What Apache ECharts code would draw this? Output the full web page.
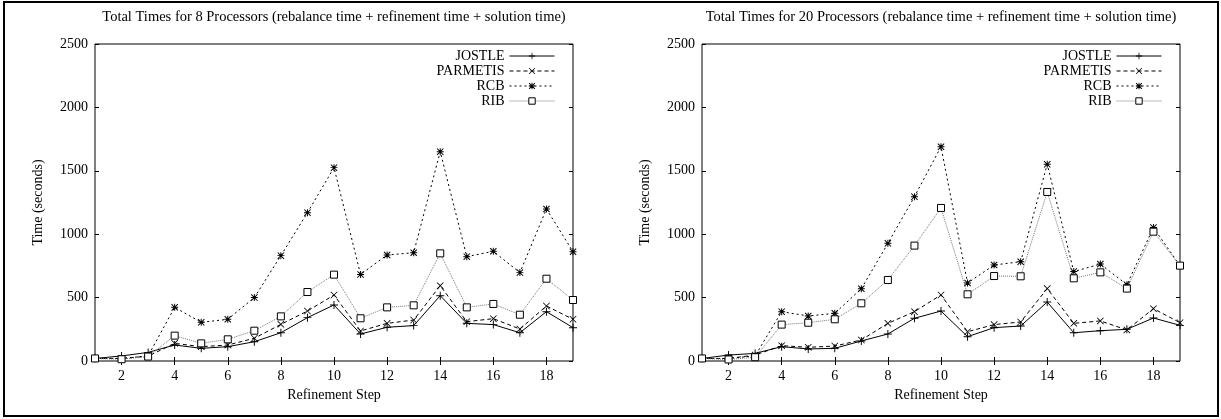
<!DOCTYPE html>
<html>
<head>
<meta charset="utf-8">
<script src="https://cdn.jsdelivr.net/npm/echarts@6/dist/echarts.min.js"></script>
<style>
  html, body { margin: 0; padding: 0; background: #fff; }
  #chart { width: 1221px; height: 419px; }
</style>
</head>
<body>
<div id="chart"></div>
<script>
// Refinement steps along the x axis
const steps = [1, 2, 3, 4, 5, 6, 7, 8, 9, 10, 11, 12, 13, 14, 15, 16, 17, 18, 19];
const xTicks = [2, 4, 6, 8, 10, 12, 14, 16, 18];
const methods = ['JOSTLE', 'PARMETIS', 'RCB', 'RIB'];

// Total times (seconds), 8 processors
const jostle8   = [20, 40, 68, 126, 100, 113, 152, 223, 342, 442, 213, 266, 279, 515, 297, 287, 223, 389, 263];
const parmetis8 = [20, 20, 38, 139, 113, 126, 179, 289, 394, 520, 237, 297, 323, 594, 310, 334, 252, 434, 329];
const rcb8      = [20, 20, 40, 423, 305, 329, 500, 831, 1170, 1525, 683, 836, 854, 1651, 823, 865, 697, 1199, 862];
const rib8      = [20, 14, 35, 200, 139, 171, 239, 352, 544, 681, 337, 423, 439, 849, 423, 450, 365, 649, 481];

// Total times (seconds), 20 processors
const jostle20   = [20, 47, 60, 113, 95, 100, 158, 213, 337, 394, 192, 263, 276, 465, 223, 239, 250, 339, 281];
const parmetis20 = [20, 20, 47, 121, 108, 118, 166, 297, 389, 521, 231, 287, 308, 571, 297, 316, 245, 413, 302];
const rcb20      = [20, 20, 40, 389, 355, 376, 570, 928, 1296, 1690, 615, 757, 783, 1551, 705, 765, 602, 1052, 752];
const rib20      = [20, 12, 30, 287, 302, 329, 455, 639, 910, 1207, 526, 670, 668, 1333, 652, 699, 571, 1020, 752];

const titles = [
  'Total Times for 8 Processors (rebalance time + refinement time + solution time)',
  'Total Times for 20 Processors (rebalance time + refinement time + solution time)'
];

const FONT = '"Liberation Serif", "DejaVu Serif", serif';
const FS = 14;

// gnuplot-style point marks
const PLUS  = 'path://M4.4,0h1.2v4.4h4.4v1.2h-4.4v4.4h-1.2v-4.4h-4.4v-1.2h4.4z';
const CROSS = 'path://M0,0.8L0.8,0L5,4.2L9.2,0L10,0.8L5.8,5L10,9.2L9.2,10L5,5.8L0.8,10L0,9.2L4.2,5Z';
const STAR  = 'path://M4.3,0h1.4v4.3h4.3v1.4h-4.3v4.3h-1.4v-4.3h-4.3v-1.4h4.3zM0,1L1,0L5,4L9,0L10,1L6,5L10,9L9,10L5,6L1,10L0,9L4,5Z';

const styles = {
  JOSTLE:   { symbol: PLUS,  size: 8, fill: '#000', border: 0, line: { color: '#000', width: 1, type: 'solid' } },
  PARMETIS: { symbol: CROSS, size: 7, fill: '#000', border: 0, line: { color: '#000', width: 1, type: [4, 3] } },
  RCB:      { symbol: STAR,  size: 7, fill: '#000', border: 0, line: { color: '#000', width: 1, type: [2, 3] } },
  RIB:      { symbol: 'rect', size: 7, fill: '#fff', border: 1, line: { color: '#777', width: 1, type: [1, 1] } }
};

const panels = [
  { left: 95,  values: { JOSTLE: jostle8,  PARMETIS: parmetis8,  RCB: rcb8,  RIB: rib8 } },
  { left: 702, values: { JOSTLE: jostle20, PARMETIS: parmetis20, RCB: rcb20, RIB: rib20 } }
];
const plotW = 478, plotTop = 44, plotH = 317;

const grid = [], xAxis = [], yAxis = [], series = [], title = [], legend = [];

panels.forEach((p, i) => {
  grid.push({ left: p.left, top: plotTop, width: plotW, height: plotH,
              show: true, borderColor: '#000', borderWidth: 1, backgroundColor: 'transparent' });

  const tickStyle = { show: true, inside: true, length: 4, lineStyle: { color: '#000', width: 1 } };
  const label = { color: '#000', fontFamily: FONT, fontSize: FS };

  // bottom x axis
  xAxis.push({
    type: 'value', gridIndex: i, min: 1, max: 19, position: 'bottom',
    name: 'Refinement Step', nameLocation: 'middle', nameGap: 27,
    nameTextStyle: label,
    axisLine: { show: false },
    axisTick: Object.assign({ customValues: xTicks }, tickStyle),
    axisLabel: Object.assign({ customValues: xTicks, margin: 8, formatter: v => String(v) }, label),
    splitLine: { show: false }
  });
  // mirrored ticks on top
  xAxis.push({
    type: 'value', gridIndex: i, min: 1, max: 19, position: 'top',
    axisLine: { show: false },
    axisTick: Object.assign({ customValues: xTicks }, tickStyle),
    axisLabel: { show: false },
    splitLine: { show: false }
  });
  // left y axis
  yAxis.push({
    type: 'value', gridIndex: i, min: 0, max: 2500, interval: 500, position: 'left',
    name: 'Time (seconds)', nameLocation: 'middle', nameGap: 50,
    nameTextStyle: label,
    axisLine: { show: false },
    axisTick: tickStyle,
    axisLabel: Object.assign({ margin: 7, formatter: v => String(v) }, label),
    splitLine: { show: false }
  });
  // mirrored ticks on the right
  yAxis.push({
    type: 'value', gridIndex: i, min: 0, max: 2500, interval: 500, position: 'right',
    axisLine: { show: false },
    axisTick: tickStyle,
    axisLabel: { show: false },
    splitLine: { show: false }
  });

  methods.forEach(m => {
    const s = styles[m];
    series.push({
      name: m, type: 'line',
      xAxisIndex: i * 2, yAxisIndex: i * 2,
      data: steps.map((x, k) => [x, p.values[m][k]]),
      symbol: s.symbol, symbolSize: s.size, showSymbol: true,
      lineStyle: s.line,
      itemStyle: { color: s.fill, borderColor: '#000', borderWidth: s.border },
      emphasis: { disabled: true },
      z: 3
    });
  });

  title.push({
    text: titles[i], left: p.left + plotW / 2, top: 10, textAlign: 'center', padding: 0,
    textStyle: { color: '#000', fontFamily: FONT, fontSize: 14.5, fontWeight: 'normal' }
  });

  legend.push({
    data: methods.map(m => ({ name: m, itemStyle: { borderWidth: styles[m].border } })),
    orient: 'vertical', align: 'right',
    right: 1221 - (p.left + 460), top: 49, padding: 0,
    itemWidth: 45, itemHeight: 8, itemGap: 1,
    lineStyle: { width: 1 },
    textStyle: { color: '#000', fontFamily: FONT, fontSize: FS },
    selectedMode: false
  });
});

const chart = echarts.init(document.getElementById('chart'), null, { renderer: 'canvas' });
chart.setOption({
  animation: false,
  backgroundColor: '#fff',
  title, legend, grid, xAxis, yAxis, series,
  graphic: [{
    type: 'rect', z: 100, silent: true,
    shape: { x: 4, y: 2, width: 1214, height: 414 },
    style: { fill: 'none', stroke: '#000', lineWidth: 2 }
  }]
});
</script>
</body>
</html>
